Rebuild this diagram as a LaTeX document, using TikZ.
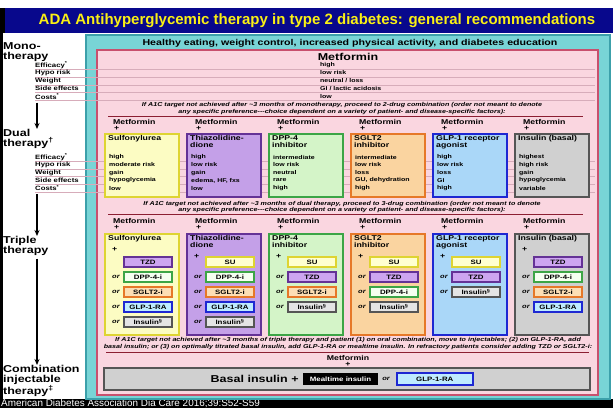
\documentclass[tikz,border=0pt]{standalone}
\usepackage{fontspec}
\setmainfont{Liberation Sans}
\newfontfamily\figfont[FakeStretch=1.25]{Liberation Sans}
\usetikzlibrary{arrows.meta,positioning}

\newcommand\setfs[2]{\fontsize{#1}{#2}\selectfont}

\definecolor{adablue}{RGB}{8,8,140}
\definecolor{adayellow}{RGB}{250,240,20}
\definecolor{tealfill}{RGB}{120,212,214}
\definecolor{tealedge}{RGB}{60,160,170}
\definecolor{pinkfill}{RGB}{250,214,224}
\definecolor{pinkedge}{RGB}{200,80,110}
\definecolor{rowgray}{RGB}{215,172,186}
\definecolor{notered}{RGB}{140,30,50}
\definecolor{fillsu}{RGB}{252,252,195}
\definecolor{edgesu}{RGB}{222,212,50}
\definecolor{pillsu}{RGB}{255,255,208}
\definecolor{filltzd}{RGB}{196,160,232}
\definecolor{edgetzd}{RGB}{100,50,150}
\definecolor{pilltzd}{RGB}{205,165,240}
\definecolor{filldpp}{RGB}{212,244,200}
\definecolor{edgedpp}{RGB}{60,165,70}
\definecolor{pilldpp}{RGB}{245,255,240}
\definecolor{fillsglt}{RGB}{250,212,160}
\definecolor{edgesglt}{RGB}{230,120,40}
\definecolor{pillsglt}{RGB}{252,222,180}
\definecolor{fillglp}{RGB}{170,215,248}
\definecolor{edgeglp}{RGB}{30,40,210}
\definecolor{pillglp}{RGB}{190,235,255}
\definecolor{fillins}{RGB}{208,208,208}
\definecolor{edgeins}{RGB}{85,85,85}
\definecolor{pillins}{RGB}{228,228,228}

\begin{document}
\begin{tikzpicture}[x=1pt, y=-1pt,
	stage/.style={anchor=north west, align=left, inner sep=0pt, font=\figfont\bfseries\setfs{10}{10}},
	lab/.style={anchor=west, inner sep=0pt, font=\figfont\bfseries\setfs{6.2}{7}},
	val/.style={anchor=west, inner sep=0pt, font=\figfont\bfseries\setfs{5.6}{7}},
	note/.style={align=center, inner sep=0pt, font=\figfont\bfseries\itshape\setfs{5.7}{6.4}},
	colhead/.style={anchor=west, inner sep=0pt, font=\figfont\bfseries\setfs{7}{8}},
	boxtitle/.style={anchor=north west, align=left, inner sep=0pt, font=\figfont\bfseries\setfs{7}{7}},
	bigbox/.style={anchor=north west, minimum width=74pt, inner sep=0pt, line width=1.6pt},
	pill/.style={minimum width=48pt, minimum height=10pt, inner sep=0pt, line width=1.4pt, font=\figfont\bfseries\setfs{6.3}{7}},
	ornode/.style={anchor=west, inner sep=0pt, font=\figfont\bfseries\itshape\setfs{6}{7}},
	arr/.style={line width=1.2pt, -{Stealth[length=6pt,width=5pt]}},
	rowline/.style={draw=rowgray, line width=0.5pt},
	redline/.style={draw=notered, line width=0.8pt}
	]
	\useasboundingbox (0,0) rectangle (613,408);
	% title bar, frame and source line
	\fill[white] (0,0) rectangle (613,408);
	\fill[black] (0,8) rectangle (5,33);
	\fill[black] (0,33) rectangle (2.5,408);
	\fill[adablue] (5,8) rectangle (613,33);
	\node[inner sep=0pt, text=adayellow, font=\bfseries\setfs{15}{16}] (title) at (317,21) {ADA Antihyperglycemic therapy in type 2 diabetes: general recommendations};
	\fill[black] (0,399) rectangle (613,408);
	\node[anchor=base west, inner sep=0pt, text=white, font=\setfs{9.9}{10}] (source) at (1,406.5) {American Diabetes Association Dia Care 2016;39:S52-S59};
	
	% panels
	\draw[fill=tealfill, draw=tealedge, line width=1.5pt] (86,35) rectangle (610,399);
	\node[inner sep=0pt, font=\figfont\bfseries\setfs{8.5}{9}] (healthy) at (350,43) {Healthy eating, weight control, increased physical activity, and diabetes education};
	\draw[fill=pinkfill, draw=pinkedge, line width=1.2pt] (97,50) rectangle (598,395);
	\foreach \r in {0,...,4} {
		\draw[rowline] (35,{69+7.9*\r}) -- (595,{69+7.9*\r});
		\draw[rowline] (35,{161+7.8*\r}) -- (595,{161+7.8*\r});
	}
	
	% stage labels on the left
	\node[stage] (mono) at (3,42) {Mono-\\therapy};
	\node[stage] (dual) at (3,129) {Dual\\therapy\textsuperscript{†}};
	\node[stage] (triple) at (3,236) {Triple\\therapy};
	\node[stage] (combo) at (3,365) {Combination\\injectable\\therapy\textsuperscript{‡}};
	\foreach \l [count=\j] in {Efficacy\textsuperscript{*}, Hypo risk, Weight, Side effects, Costs\textsuperscript{*}} {
		\node[lab] (mlab\j) at (35,{65+7.9*(\j-1)}) {\l};
		\node[lab] (dlab\j) at (35,{157+7.8*(\j-1)}) {\l};
	}
	\coordinate (a1) at ([xshift=2pt,yshift=-3pt]mlab5.south west);
	\coordinate (a2) at ([xshift=2pt,yshift=-3pt]dlab5.south west);
	\coordinate (a3) at ([yshift=-3pt]a2 |- triple.south);
	\draw[arr] (a1) -- (a1 |- dual.north);
	\draw[arr] (a2) -- (a2 |- triple.north);
	\draw[arr] (a3) -- (a3 |- combo.north);
	
	% monotherapy
	\node[inner sep=0pt, font=\figfont\bfseries\setfs{10}{10}] (met) at (348,57) {Metformin};
	\foreach \v [count=\j] in {high, low risk, neutral / loss, GI / lactic acidosis, low}
		\node[val] (mval\j) at (320,{65+7.9*(\j-1)}) {\v};
	\node[note] (note1) at (342,108.5) {If A1C target not achieved after \textasciitilde3 months of monotherapy, proceed to 2-drug combination (order not meant to denote\\any specific preference---choice dependent on a variety of patient- and disease-specific factors):};
	\draw[redline] (108,116.5) -- (583,116.5);
	\node[note] (note2) at (342,207) {If A1C target not achieved after \textasciitilde3 months of dual therapy, proceed to 3-drug combination (order not meant to denote\\any specific preference---choice dependent on a variety of patient- and disease-specific factors):};
	\draw[redline] (108,214) -- (583,214);
	
	% dual and triple therapy columns
	\foreach \i/\c/\t/\vals/\py/\pills in {
		1/su/{Sulfonylurea}/{high,moderate risk,gain,hypoglycemia,low}/249/{tzd/TZD,dpp/DPP-4-i,sglt/SGLT2-i,glp/GLP-1-RA,ins/Insulin\textsuperscript{§}},
		2/tzd/{Thiazolidine-\\dione}/{high,low risk,gain,{edema, HF, fxs},low}/256/{su/SU,dpp/DPP-4-i,sglt/SGLT2-i,glp/GLP-1-RA,ins/Insulin\textsuperscript{§}},
		3/dpp/{DPP-4\\inhibitor}/{intermediate,low risk,neutral,rare,high}/256/{su/SU,tzd/TZD,sglt/SGLT2-i,ins/Insulin\textsuperscript{§}},
		4/sglt/{SGLT2\\inhibitor}/{intermediate,low risk,loss,{GU, dehydration},high}/256/{su/SU,tzd/TZD,dpp/DPP-4-i,ins/Insulin\textsuperscript{§}},
		5/glp/{GLP-1 receptor\\agonist}/{high,low risk,loss,GI,high}/256/{su/SU,tzd/TZD,ins/Insulin\textsuperscript{§}},
		6/ins/{Insulin (basal)}/{highest,high risk,gain,hypoglycemia,variable}/249/{tzd/TZD,dpp/DPP-4-i,sglt/SGLT2-i,glp/GLP-1-RA}} {
		\pgfmathsetmacro\cx{104+82*(\i-1)}
		% dual
		\node[colhead] (dm\i) at (\cx+9,122) {Metformin};
		\node[colhead] (dp\i) at (\cx+10,128) {+};
		\node[bigbox, fill=fill\c, draw=edge\c, minimum height=63pt] (dual\i) at (\cx,133) {};
		\node[boxtitle] (dual\i t) at ([xshift=4pt,yshift=-2.5pt]dual\i.north west) {\t};
		\foreach \v [count=\j] in \vals
			\node[val] (dual\i v\j) at (\cx+5,{157+7.8*(\j-1)}) {\v};
		% triple
		\node[colhead] (tm\i) at (\cx+9,221) {Metformin};
		\node[colhead] (tp\i) at (\cx+10,227) {+};
		\node[bigbox, fill=fill\c, draw=edge\c, minimum height=101pt] (tri\i) at (\cx,233) {};
		\node[boxtitle] (tri\i t) at ([xshift=4pt,yshift=-2.5pt]tri\i.north west) {\t};
		\node[colhead] (tri\i p) at (\cx+8,\py) {+};
		\foreach \s/\l [count=\j] in \pills {
			\node[pill, fill=pill\s, draw=edge\s] (tri\i x\j) at (\cx+44,{262+15*(\j-1)}) {\l};
			\ifnum\j>1 \node[ornode] (tri\i o\j) at (\cx+8,{262+15*(\j-1)}) {or}; \fi
		}
	}
	
	% combination injectable therapy
	\node[note] (note3) at (348,343.5) {If A1C target not achieved after \textasciitilde3 months of triple therapy and patient (1) on oral combination, move to injectables; (2) on GLP-1-RA, add\\basal insulin; or (3) on optimally titrated basal insulin, add GLP-1-RA or mealtime insulin. In refractory patients consider adding TZD or SGLT2-i:};
	\draw[redline] (106,352) -- (589,352);
	\node[colhead, anchor=center] (fm) at (348,358) {Metformin};
	\node[colhead, anchor=center] (fp) at (348,364) {+};
	\node[draw=edgeins, fill=fillins, line width=1.6pt, minimum width=486pt, minimum height=22pt] (basalbox) at (347,379) {};
	\node[fill=black, text=white, minimum width=75pt, minimum height=12pt, inner sep=0pt, font=\figfont\bfseries\setfs{6.3}{7}] (meal) at (340.5,379) {Mealtime insulin};
	\node[inner sep=0pt, font=\figfont\bfseries\setfs{10}{10}, left=4pt of meal] (basal) {Basal insulin +};
	\node[ornode, right=4pt of meal] (orf) {or};
	\node[pill, fill=pillglp, draw=edgeglp, minimum width=76pt, minimum height=12pt, right=6pt of orf] (glpf) {GLP-1-RA};
\end{tikzpicture}
\end{document}
